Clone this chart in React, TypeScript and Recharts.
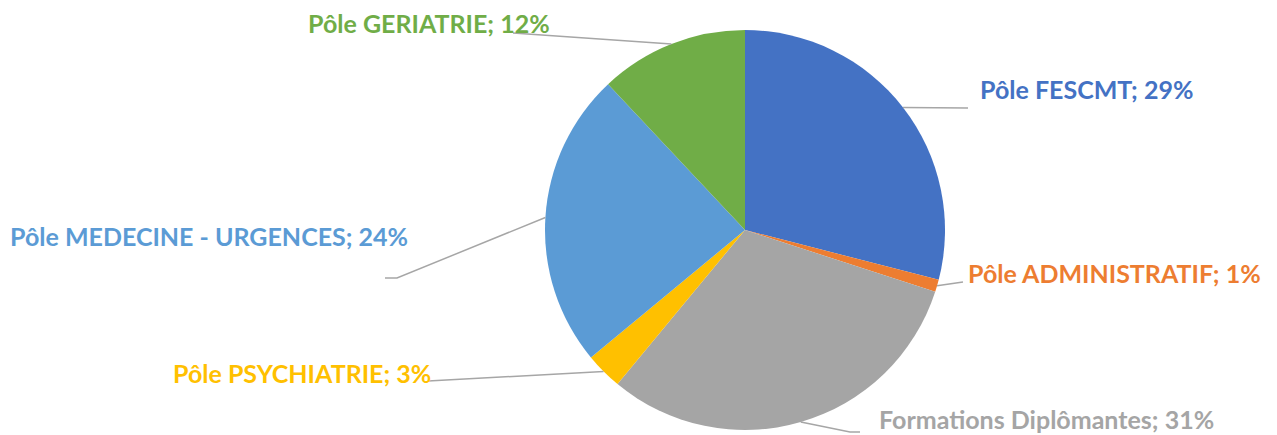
import React from 'react';
import { PieChart, Pie, Cell } from 'recharts';

// Slices, clockwise from 12 o'clock
const POLES = [
  'Pôle FESCMT',
  'Pôle ADMINISTRATIF',
  'Formations Diplômantes',
  'Pôle PSYCHIATRIE',
  'Pôle MEDECINE - URGENCES',
  'Pôle GERIATRIE',
];
const SHARES = [29, 1, 31, 3, 24, 12];
const COLORS = ['#4472C4', '#ED7D31', '#A5A5A5', '#FFC000', '#5B9BD5', '#70AD47'];

// where each data label sits and where its leader line bends / ends
const LABEL_POS = [
  { x: 980, y: 99, path: [[968, 108]] },
  { x: 968, y: 283, path: [[963, 282]] },
  { x: 879, y: 429, path: [[850, 432], [860, 432]] },
  { x: 173, y: 383, path: [[428, 381]] },
  { x: 10, y: 246, path: [[397, 278], [385, 278]] },
  { x: 308, y: 33, path: [[513, 33]] },
];

const data = POLES.map((name, i) => ({ name, value: SHARES[i] }));

const RAD = Math.PI / 180;

const renderLabel = (props: any) => {
  const { cx, cy, midAngle, outerRadius, index, name, value } = props;
  const ex = cx + outerRadius * Math.cos(-midAngle * RAD);
  const ey = cy + outerRadius * Math.sin(-midAngle * RAD);
  const pos = LABEL_POS[index];
  const pts = [[ex, ey], ...pos.path].map(p => p.join(',')).join(' ');
  return (
    <g key={`lbl-${index}`}>
      <polyline points={pts} fill="none" stroke="#A6A6A6" strokeWidth={1.5} />
      <text
        x={pos.x}
        y={pos.y}
        fill={COLORS[index]}
        fontFamily="Lato, 'Open Sans', sans-serif"
        fontWeight={700}
        fontSize={25}
        textAnchor="start"
      >
        {`${name}; ${value}%`}
      </text>
    </g>
  );
};

export default function App() {
  return (
    <div style={{ position: 'absolute', left: 0, top: 0, width: 1277, height: 435, background: '#fff' }}>
      <PieChart width={1277} height={435} margin={{ top: 0, right: 0, bottom: 0, left: 0 }}>
        <Pie
          data={data}
          dataKey="value"
          nameKey="name"
          cx={745}
          cy={230}
          outerRadius={200}
          startAngle={90}
          endAngle={-270}
          stroke="none"
          label={renderLabel}
          labelLine={false}
          isAnimationActive={false}
        >
          {data.map((_, i) => (
            <Cell key={`cell-${i}`} fill={COLORS[i]} />
          ))}
        </Pie>
      </PieChart>
    </div>
  );
}
